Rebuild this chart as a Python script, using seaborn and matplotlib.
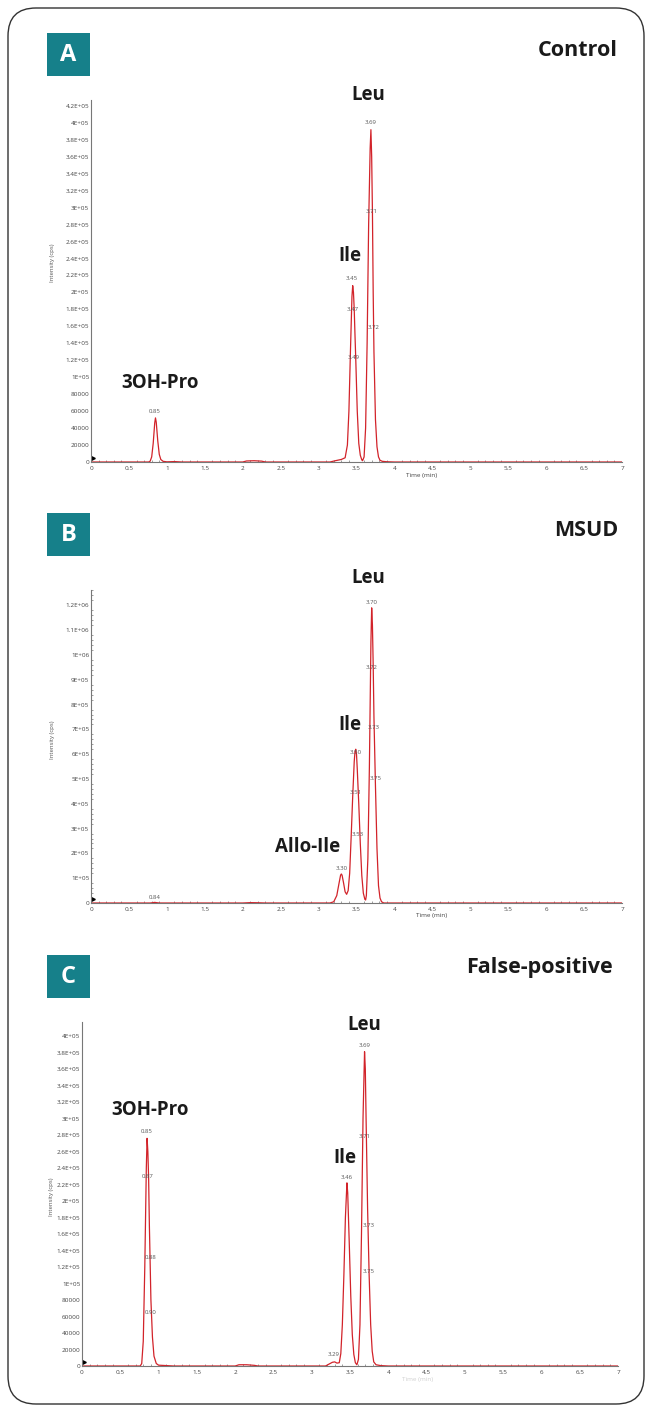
import numpy as np
import pandas as pd
import matplotlib
matplotlib.use("Agg")
import matplotlib.pyplot as plt
from matplotlib.patches import FancyBboxPatch, Rectangle
from matplotlib.ticker import MultipleLocator, FixedLocator
import seaborn as sns

# ---------------- data ----------------
time_A = [0.00, 0.50, 0.76, 0.78, 0.80, 0.82, 0.84, 0.85, 0.86, 0.88, 0.90, 0.92, 0.95, 1.00, 1.10, 1.20,
          2.00, 2.05, 2.15, 2.25, 2.30, 3.15, 3.22, 3.30, 3.35, 3.38, 3.40, 3.42, 3.44, 3.45, 3.46, 3.47,
          3.48, 3.49, 3.51, 3.53, 3.55, 3.57, 3.58, 3.60, 3.62, 3.64, 3.66, 3.68, 3.69, 3.70, 3.71, 3.72,
          3.73, 3.75, 3.77, 3.79, 3.81, 3.84, 3.90, 4.00, 7.00]
inten_A = [0, 0, 0, 1000, 6000, 22000, 46000, 52000, 47000, 25000, 9000, 3000, 800, 200, 500, 0,
           0, 1200, 1500, 1000, 0, 0, 1500, 3000, 5000, 20000, 60000, 130000, 195000, 208000, 200000, 180000,
           150000, 122000, 60000, 22000, 8000, 2500, 1500, 6000, 40000, 140000, 280000, 370000, 392000, 360000, 295000, 200000,
           130000, 50000, 18000, 6000, 2000, 800, 300, 0, 0]

time_B = [0.00, 0.50, 0.78, 0.82, 0.84, 0.86, 0.90, 2.00, 2.10, 2.20, 2.30, 3.15, 3.20, 3.24, 3.27, 3.29,
          3.30, 3.31, 3.33, 3.35, 3.37, 3.39, 3.41, 3.43, 3.45, 3.47, 3.48, 3.49, 3.50, 3.51, 3.53, 3.55,
          3.57, 3.59, 3.61, 3.62, 3.63, 3.65, 3.67, 3.69, 3.70, 3.71, 3.72, 3.73, 3.75, 3.77, 3.79, 3.81,
          3.83, 3.86, 7.00]
inten_B = [0, 0, 0, 1500, 2500, 1500, 0, 0, 1500, 1000, 0, 0, 5000, 30000, 80000, 112000,
           117000, 112000, 80000, 45000, 35000, 50000, 120000, 270000, 430000, 570000, 610000, 620000, 600000, 540000, 400000, 240000,
           110000, 40000, 15000, 12000, 30000, 180000, 550000, 1050000, 1190000, 1120000, 960000, 750000, 470000, 220000, 70000, 20000,
           5000, 0, 0]

time_C = [0.00, 0.76, 0.78, 0.80, 0.82, 0.84, 0.85, 0.86, 0.87, 0.88, 0.89, 0.90, 0.92, 0.94, 0.97, 1.00,
          1.10, 1.20, 2.00, 2.05, 2.15, 2.25, 2.30, 3.18, 3.22, 3.27, 3.30, 3.33, 3.36, 3.38, 3.40, 3.42,
          3.44, 3.46, 3.47, 3.49, 3.51, 3.53, 3.55, 3.57, 3.59, 3.61, 3.63, 3.65, 3.67, 3.69, 3.70, 3.71,
          3.73, 3.75, 3.77, 3.79, 3.81, 3.84, 3.90, 4.00, 7.00]
inten_C = [0, 0, 3000, 30000, 120000, 240000, 276000, 260000, 228000, 170000, 125000, 80000, 35000, 12000, 3000, 1000,
           500, 0, 0, 1500, 1500, 800, 0, 0, 2000, 4500, 5000, 3500, 4000, 15000, 50000, 110000,
           180000, 222000, 210000, 150000, 85000, 38000, 14000, 4000, 1500, 8000, 50000, 160000, 300000, 381000, 360000, 300000,
           190000, 110000, 50000, 18000, 5000, 1500, 500, 0, 0]

# retention-time annotations: (label, time, intensity)
rt_A_text = ["0.85", "3.45", "3.47", "3.49", "3.69", "3.71", "3.72"]
rt_A_x = [0.84, 3.44, 3.45, 3.46, 3.69, 3.70, 3.72]
rt_A_y = [60000, 216000, 180000, 123000, 400000, 295000, 159000]

rt_B_text = ["0.84", "3.30", "3.50", "3.51", "3.53", "3.70", "3.72", "3.73", "3.75"]
rt_B_x = [0.84, 3.31, 3.49, 3.49, 3.52, 3.70, 3.70, 3.73, 3.75]
rt_B_y = [24000, 141000, 605000, 444000, 278000, 1210000, 950000, 706000, 500000]

rt_C_text = ["0.85", "0.87", "0.88", "0.90", "3.29", "3.46", "3.69", "3.71", "3.73", "3.75"]
rt_C_x = [0.85, 0.86, 0.89, 0.90, 3.28, 3.46, 3.69, 3.69, 3.74, 3.74]
rt_C_y = [284000, 230000, 132000, 65000, 14500, 228000, 388000, 278000, 170000, 114000]

# compound names: (label, time, intensity)
cmp_A_text = ["Leu", "Ile", "3OH-Pro"]
cmp_A_x = [3.65, 3.41, 0.91]
cmp_A_y = [433000, 243000, 93000]
cmp_B_text = ["Leu", "Ile", "Allo-Ile"]
cmp_B_x = [3.65, 3.41, 2.86]
cmp_B_y = [1310000, 718000, 226000]
cmp_C_text = ["Leu", "Ile", "3OH-Pro"]
cmp_C_x = [3.69, 3.43, 0.89]
cmp_C_y = [413000, 252000, 310000]

ytick_A = [0, 20000, 40000, 60000, 80000, 100000, 120000, 140000, 160000, 180000, 200000, 220000,
           240000, 260000, 280000, 300000, 320000, 340000, 360000, 380000, 400000, 420000]
ylab_A = ["0", "20000", "40000", "60000", "80000", "1E+05", "1.2E+05", "1.4E+05", "1.6E+05", "1.8E+05",
          "2E+05", "2.2E+05", "2.4E+05", "2.6E+05", "2.8E+05", "3E+05", "3.2E+05", "3.4E+05", "3.6E+05",
          "3.8E+05", "4E+05", "4.2E+05"]
ytick_B = [0, 100000, 200000, 300000, 400000, 500000, 600000, 700000, 800000, 900000, 1000000, 1100000, 1200000]
ylab_B = ["0", "1E+05", "2E+05", "3E+05", "4E+05", "5E+05", "6E+05", "7E+05", "8E+05", "9E+05",
          "1E+06", "1.1E+06", "1.2E+06"]
ytick_C = ytick_A[:-1]
ylab_C = ylab_A[:-1]
xtick = [0, 0.5, 1, 1.5, 2, 2.5, 3, 3.5, 4, 4.5, 5, 5.5, 6, 6.5, 7]
xlab = ["0", "0.5", "1", "1.5", "2", "2.5", "3", "3.5", "4", "4.5", "5", "5.5", "6", "6.5", "7"]

panel_letters = ["A", "B", "C"]
panel_titles = ["Control", "MSUD", "False-positive"]

# ---------------- style ----------------
sns.set_style("white")
plt.rcParams['font.family'] = ['Open Sans', 'DejaVu Sans']

W, H = 650, 1410
fig = plt.figure(figsize=(W / 100, H / 100), dpi=100)
fig.patch.set_facecolor("white")

LINE = "#d2232a"
TEAL = "#16808a"
BOLDFONT = ["Open Sans", "DejaVu Sans"]

def px_axes(left, right, bottom, top):
    return fig.add_axes([left / W, 1 - bottom / H, (right - left) / W, (bottom - top) / H])

panels = [
    dict(rect=(91, 622, 462, 100), ymax=427000, t=time_A, i=inten_A, yt=ytick_A, yl=ylab_A,
         rt=(rt_A_text, rt_A_x, rt_A_y), cm=(cmp_A_text, cmp_A_x, cmp_A_y), yminor=None,
         ylabpos=(52, 263), xlabpos=(422, 476), xlab_alpha=1.0),
    dict(rect=(91, 622, 903, 590), ymax=1262000, t=time_B, i=inten_B, yt=ytick_B, yl=ylab_B,
         rt=(rt_B_text, rt_B_x, rt_B_y), cm=(cmp_B_text, cmp_B_x, cmp_B_y), yminor=20000,
         ylabpos=(52, 740), xlabpos=(432, 916), xlab_alpha=1.0),
    dict(rect=(82, 618, 1366, 1022), ymax=417000, t=time_C, i=inten_C, yt=ytick_C, yl=ylab_C,
         rt=(rt_C_text, rt_C_x, rt_C_y), cm=(cmp_C_text, cmp_C_x, cmp_C_y), yminor=None,
         ylabpos=(52, 1197), xlabpos=(418, 1379), xlab_alpha=0.25),
]

for p in panels:
    l, r, b, t = p["rect"]
    ax = px_axes(l, r, b, t)
    df = pd.DataFrame({"time": p["t"], "intensity": p["i"]})
    sns.lineplot(data=df, x="time", y="intensity", ax=ax, color=LINE, linewidth=0.9,
                 estimator=None, sort=False)
    ax.set_xlim(0, 7)
    ax.set_ylim(0, p["ymax"])
    ax.set_facecolor("none")
    for s in ["top", "right"]:
        ax.spines[s].set_visible(False)
    for s in ["left", "bottom"]:
        ax.spines[s].set_color("#777777")
        ax.spines[s].set_linewidth(0.8)
    ax.xaxis.set_major_locator(FixedLocator(xtick))
    ax.set_xticklabels(xlab)
    ax.xaxis.set_minor_locator(MultipleLocator(0.1))
    ax.yaxis.set_major_locator(FixedLocator(p["yt"]))
    ax.set_yticklabels(p["yl"])
    if p["yminor"]:
        ax.yaxis.set_minor_locator(MultipleLocator(p["yminor"]))
    ax.tick_params(axis="both", which="major", labelsize=4.6, colors="#777777", labelcolor="#444444",
                   length=3, width=0.6, pad=1.2)
    ax.tick_params(axis="x", which="major", direction="inout", length=3.5)
    ax.tick_params(axis="y", which="major", direction="in")
    ax.tick_params(axis="both", which="minor", direction="in", length=1.6, width=0.5, colors="#777777")
    ax.tick_params(axis="x", which="minor", bottom=True)
    ax.tick_params(axis="y", which="minor", left=True)
    ax.set_xlabel("")
    ax.set_ylabel("")
    # axis titles
    yx, yy = p["ylabpos"]
    ax.text((yx - l) / (r - l), (b - yy) / (b - t), "Intensity (cps)", transform=ax.transAxes,
            rotation=90, ha="center", va="center", fontsize=4.3, color="#555555")
    xx, xy = p["xlabpos"]
    ax.text((xx - l) / (r - l), (b - xy) / (b - t), "Time (min)", transform=ax.transAxes,
            ha="center", va="center", fontsize=4.6, color="#444444", alpha=p["xlab_alpha"],
            clip_on=False)
    # little start marker on the y axis
    ax.plot([0.004], [0.012], transform=ax.transAxes, marker=">", markersize=2.6, color="black",
            clip_on=False)
    # retention time labels
    for txt, x, y in zip(*p["rt"]):
        ax.text(x, y, txt, ha="center", va="center", fontsize=4.3, color="#555555", clip_on=False)
    # compound names
    for txt, x, y in zip(*p["cm"]):
        ax.text(x, y, txt, ha="center", va="center", fontsize=13.5, fontweight="bold",
                color="#1a1a1a", family=BOLDFONT, clip_on=False)

# ---------------- overlay: frame, panel letters, titles ----------------
ov = fig.add_axes([0, 0, 1, 1], zorder=-1)
ov.set_xlim(0, W)
ov.set_ylim(H, 0)
ov.axis("off")
ov.patch.set_visible(False)
frame = FancyBboxPatch((8, 8), 636, 1396, boxstyle="round,pad=0,rounding_size=28",
                       fill=False, edgecolor="#333333", linewidth=1.0)
ov.add_patch(frame)

box_tops = [33, 513, 955]
title_pos = [(618, 50), (618, 530), (613, 968)]
for letter, top, title, (tx, ty) in zip(panel_letters, box_tops, panel_titles, title_pos):
    ov.add_patch(Rectangle((47, top), 43, 43, facecolor=TEAL, edgecolor="none"))
    ov.text(68.5, top + 22, letter, ha="center", va="center", fontsize=17, fontweight="bold",
            color="white", family=BOLDFONT)
    ov.text(tx, ty, title, ha="right", va="center", fontsize=15.5, fontweight="bold",
            color="#1a1a1a", family=BOLDFONT)

fig.savefig("out.png", dpi=100, facecolor="white")
